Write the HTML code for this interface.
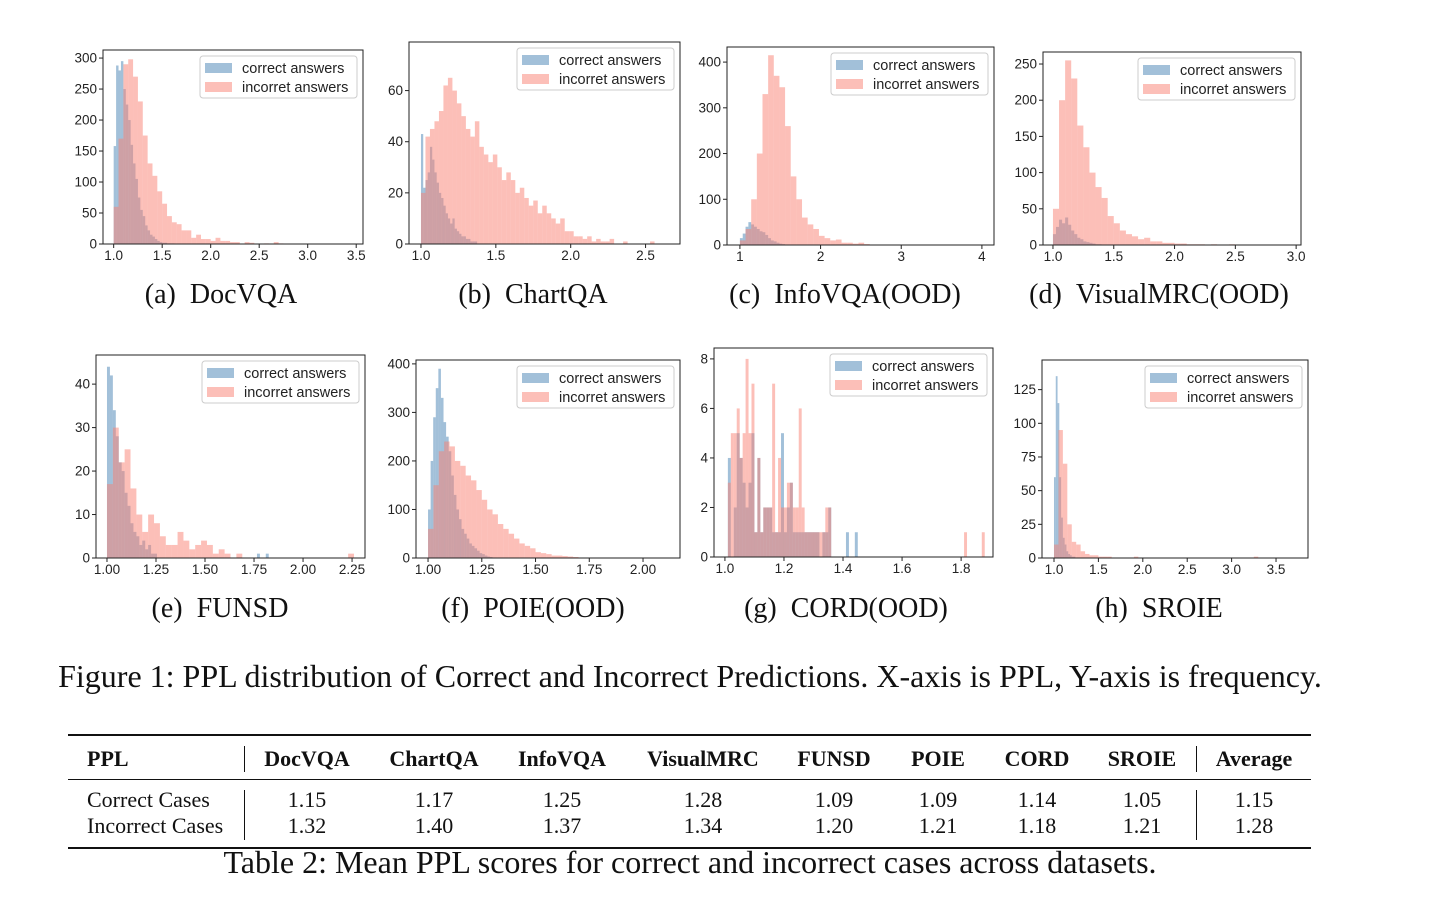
<!DOCTYPE html>
<html><head><meta charset="utf-8"><style>
body{margin:0;background:#fff}
svg text{font-family:"Liberation Sans",sans-serif}
.serif{font-family:"Liberation Serif",serif}
</style></head><body>
<svg id="fig" width="1436" height="908" viewBox="0 0 1436 908" xmlns="http://www.w3.org/2000/svg"></svg>
<script>
// ---- data ----
const panelNames=["DocVQA","ChartQA","InfoVQA(OOD)","VisualMRC(OOD)","FUNSD","POIE(OOD)","CORD(OOD)","SROIE"];
const panelLetters=["a","b","c","d","e","f","g","h"];
const incStart=[1.0,1.0,1.0,1.0,1.0,1.0,1.01,1.0];
const incWidth=[0.05,0.03,0.07,0.05,0.03,0.025,0.01,0.05];
const corStart=[1.0,1.0,1.0,1.0,1.0,1.0,1.01,1.0];
const corWidth=[0.025,0.015,0.035,0.025,0.015,0.012,0.01,0.02];
const incCounts=[
[60,170,290,298,270,230,175,130,110,85,65,45,35,32,22,22,10,15,8,8,5,10,5,5,3,3,0,3,2,0,0,1,0,3,1],
[20,42,45,48,52,62,65,60,55,50,45,42,48,38,35,32,35,30,25,28,25,20,22,18,15,17,12,15,12,10,8,10,5,5,3,3,2,3,1,2,1,1,2,0,0,1,0,0,0,0,0,1],
[10,35,100,200,330,415,370,345,260,150,100,60,45,35,20,15,10,12,5,5,3,5,2,1,1,0,1,0,0,0,1],
[50,200,255,230,165,135,100,80,65,40,30,20,15,12,8,10,5,5,3,3,2,2,1,1,1,0,1,0,0,1],
[17,30,22,25,16,10,6,10,8,5,3,3,6,4,2,3,4,3,1,2,1,0,1,0,0,0,0,0,0,0,0,0,0,0,0,0,0,0,0,0,0,1],
[60,150,220,240,230,200,190,170,160,140,120,100,90,70,60,50,40,30,25,20,12,10,8,5,5,4,3,2,1,1],
[3,5,5,6,4,5,8,5,7,1,4,1,2,2,2,7,1,4,2,2,3,3,2,2,6,2,1,1,1,1,1,1,1,2,2,0,0,0,0,0,0,0,0,0,0,0,0,0,0,0,0,0,0,0,0,0,0,0,0,0,0,0,0,0,0,0,0,0,0,0,0,0,0,0,0,0,0,0,0,0,1,0,0,0,0,0,1],
[10,95,70,25,12,10,5,3,2,2,1,1,1,0,0,0,0,0,1,0,0,0,0,0,0,0,0,0,0,0,0,0,0,0,0,0,0,0,0,0,0,0,0,0,0,1]
];
const corCounts=[
[158,288,280,295,250,225,200,160,130,105,75,55,45,30,22,15,12,8,5,3,2,2,1,1,1],
[43,22,25,28,38,33,28,24,20,18,15,12,10,8,10,6,5,4,3,3,2,2,1,1,1],
[15,25,40,50,45,40,35,30,28,22,15,10,8,5,3,2,1,1],
[15,25,35,30,38,28,20,15,10,8,5,4,3,2,1,1],
[44,42,34,28,22,20,15,12,8,6,5,3,4,2,3,1,1,0,0,0,0,0,0,0,0,0,0,0,0,0,0,0,0,0,0,0,0,0,0,0,0,0,0,0,0,0,0,0,0,0,0,1,0,0,1],
[100,200,290,350,390,330,280,250,220,170,130,100,80,60,50,40,30,25,20,15,10,8,5,3,2,1,1],
[4,0,2,5,4,3,2,3,5,1,4,1,2,2,2,1,1,1,5,1,2,3,1,1,1,1,1,1,1,1,1,0,1,1,2,0,0,0,0,0,1,0,0,1],
[60,135,115,60,30,15,10,5,3,2,1,1]
];
const xTicks=[[1.0,1.5,2.0,2.5,3.0,3.5],[1.0,1.5,2.0,2.5],[1,2,3,4],[1.0,1.5,2.0,2.5,3.0],[1.00,1.25,1.50,1.75,2.00,2.25],[1.00,1.25,1.50,1.75,2.00],[1.0,1.2,1.4,1.6,1.8],[1.0,1.5,2.0,2.5,3.0,3.5]];
const xTickLabels=[["1.0","1.5","2.0","2.5","3.0","3.5"],["1.0","1.5","2.0","2.5"],["1","2","3","4"],["1.0","1.5","2.0","2.5","3.0"],["1.00","1.25","1.50","1.75","2.00","2.25"],["1.00","1.25","1.50","1.75","2.00"],["1.0","1.2","1.4","1.6","1.8"],["1.0","1.5","2.0","2.5","3.0","3.5"]];
const yTicks=[[0,50,100,150,200,250,300],[0,20,40,60],[0,100,200,300,400],[0,50,100,150,200,250],[0,10,20,30,40],[0,100,200,300,400],[0,2,4,6,8],[0,25,50,75,100,125]];
const xDomain=[[0.89,3.57],[0.92,2.73],[0.84,4.15],[0.918,3.04],[0.944,2.316],[0.944,2.172],[0.963,1.908],[0.865,3.86]];
const yMax=[313,79,433,266.6,46.7,408,8.44,147];
// ---- layout (pixels) ----
const frames=[[103,50,363,244],[409,42,680,244],[727,47,994,245],[1043,52,1301,245],[96,355,365,558],[416,360,680,558],[714,348,993,557],[1042,360,1308,558]];
const capX=[221,533,845,1159,220,533,846,1159];
const NS="http://www.w3.org/2000/svg";
const svg=document.getElementById('fig');
function mk(tag,attrs,parent){const e=document.createElementNS(NS,tag);for(const k in attrs)e.setAttribute(k,attrs[k]);(parent||svg).appendChild(e);return e;}
const CC="rgba(70,130,180,0.5)", IC="rgba(250,128,114,0.5)";
for(let p=0;p<8;p++){
  const [L,T,R,B]=frames[p];
  const g=mk('g',{});
  
  
  const xs=v=>L+(v-xDomain[p][0])/(xDomain[p][1]-xDomain[p][0])*(R-L);
  const ys=v=>B-v/yMax[p]*(B-T);
  const series=[[corCounts[p],corStart[p],corWidth[p],CC,'correct'],[incCounts[p],incStart[p],incWidth[p],IC,'incorrect']];
  for(const [arr,st,w,col,nm] of series){
    arr.forEach((c,i)=>{ if(c<=0)return;
      const x0=xs(st+i*w),x1=xs(st+(i+1)*w);
      const r=mk('rect',{x:x0,y:ys(c),width:Math.max(0.5,x1-x0),height:B-ys(c),fill:col},g);
      
      
    });
  }
  const fr=mk('rect',{x:L,y:T,width:R-L,height:B-T,fill:'none',stroke:'#222','stroke-width':1},g);
  
  
  xTicks[p].forEach((v,i)=>{const x=xs(v);
    mk('line',{x1:x,x2:x,y1:B,y2:B+4,stroke:'#222'},g);
    const t=mk('text',{x:x,y:B+16,'font-size':13.5,'text-anchor':'middle',fill:'#222'},g);t.textContent=xTickLabels[p][i];
    
    });
  yTicks[p].forEach(v=>{const y=ys(v);
    mk('line',{x1:L-4,x2:L,y1:y,y2:y,stroke:'#222'},g);
    const t=mk('text',{x:L-6,y:y+4.5,'font-size':13.5,'text-anchor':'end',fill:'#222'},g);t.textContent=String(v);
    
    });
  const lw=157,lh=42,lx=R-lw-6,ly=T+6;
  const lg=mk('g',{},g);
  
  
  mk('rect',{x:lx,y:ly,width:lw,height:lh,rx:3,fill:'rgba(255,255,255,0.85)',stroke:'#ccc'},lg);
  mk('rect',{x:lx+5,y:ly+7,width:27,height:10,fill:CC},lg);
  mk('rect',{x:lx+5,y:ly+26,width:27,height:10,fill:IC},lg);
  const t1=mk('text',{x:lx+42,y:ly+17,'font-size':14.5,fill:'#222'},lg);t1.textContent='correct answers';
  const t2=mk('text',{x:lx+42,y:ly+36,'font-size':14.5,fill:'#222'},lg);t2.textContent='incorret answers';
  const cap=mk('text',{x:capX[p],y:(p<4?303:617),'font-size':28,'text-anchor':'middle',fill:'#111',class:'serif'});
  cap.textContent='('+panelLetters[p]+')\u2002'+panelNames[p];
  
  
}
</script>
<div class="serif" style="position:absolute;left:0;top:658px;width:1380px;text-align:center;font:32px 'Liberation Serif',serif;color:#111;white-space:nowrap">Figure 1: PPL distribution of Correct and Incorrect Predictions. X-axis is PPL, Y-axis is frequency.</div>
<div style="position:absolute;left:68px;top:734px;width:1243px;font:22px 'Liberation Serif',serif;color:#111">
 <div style="border-top:2px solid #111;border-bottom:1px solid #111;height:43px;position:relative;font-weight:bold">
  <span style="position:absolute;left:19px;top:10px">PPL</span>
  <span style="position:absolute;left:176px;top:10px;height:26px;border-left:1px solid #111"></span>
  <span style="position:absolute;left:239px;top:10px;transform:translateX(-50%)">DocVQA</span>
  <span style="position:absolute;left:366px;top:10px;transform:translateX(-50%)">ChartQA</span>
  <span style="position:absolute;left:494px;top:10px;transform:translateX(-50%)">InfoVQA</span>
  <span style="position:absolute;left:635px;top:10px;transform:translateX(-50%)">VisualMRC</span>
  <span style="position:absolute;left:766px;top:10px;transform:translateX(-50%)">FUNSD</span>
  <span style="position:absolute;left:870px;top:10px;transform:translateX(-50%)">POIE</span>
  <span style="position:absolute;left:969px;top:10px;transform:translateX(-50%)">CORD</span>
  <span style="position:absolute;left:1074px;top:10px;transform:translateX(-50%)">SROIE</span>
  <span style="position:absolute;left:1128px;top:10px;height:26px;border-left:1px solid #111"></span>
  <span style="position:absolute;left:1186px;top:10px;transform:translateX(-50%)">Average</span>
 </div>
 <div style="border-bottom:2px solid #111;height:67px;position:relative">
  <span style="position:absolute;left:176px;top:10px;height:50px;border-left:1px solid #111"></span>
  <span style="position:absolute;left:1128px;top:10px;height:50px;border-left:1px solid #111"></span>
  <div style="position:absolute;top:7px;left:0;width:100%">
   <span style="position:absolute;left:19px">Correct Cases</span>
   <span style="position:absolute;left:239px;transform:translateX(-50%)">1.15</span><span style="position:absolute;left:366px;transform:translateX(-50%)">1.17</span><span style="position:absolute;left:494px;transform:translateX(-50%)">1.25</span><span style="position:absolute;left:635px;transform:translateX(-50%)">1.28</span><span style="position:absolute;left:766px;transform:translateX(-50%)">1.09</span><span style="position:absolute;left:870px;transform:translateX(-50%)">1.09</span><span style="position:absolute;left:969px;transform:translateX(-50%)">1.14</span><span style="position:absolute;left:1074px;transform:translateX(-50%)">1.05</span><span style="position:absolute;left:1186px;transform:translateX(-50%)">1.15</span>
  </div>
  <div style="position:absolute;top:33px;left:0;width:100%">
   <span style="position:absolute;left:19px">Incorrect Cases</span>
   <span style="position:absolute;left:239px;transform:translateX(-50%)">1.32</span><span style="position:absolute;left:366px;transform:translateX(-50%)">1.40</span><span style="position:absolute;left:494px;transform:translateX(-50%)">1.37</span><span style="position:absolute;left:635px;transform:translateX(-50%)">1.34</span><span style="position:absolute;left:766px;transform:translateX(-50%)">1.20</span><span style="position:absolute;left:870px;transform:translateX(-50%)">1.21</span><span style="position:absolute;left:969px;transform:translateX(-50%)">1.18</span><span style="position:absolute;left:1074px;transform:translateX(-50%)">1.21</span><span style="position:absolute;left:1186px;transform:translateX(-50%)">1.28</span>
  </div>
 </div>
</div>
<div style="position:absolute;left:0;top:844px;width:1380px;text-align:center;font:32px 'Liberation Serif',serif;color:#111;white-space:nowrap">Table 2: Mean PPL scores for correct and incorrect cases across datasets.</div>
</body></html>
